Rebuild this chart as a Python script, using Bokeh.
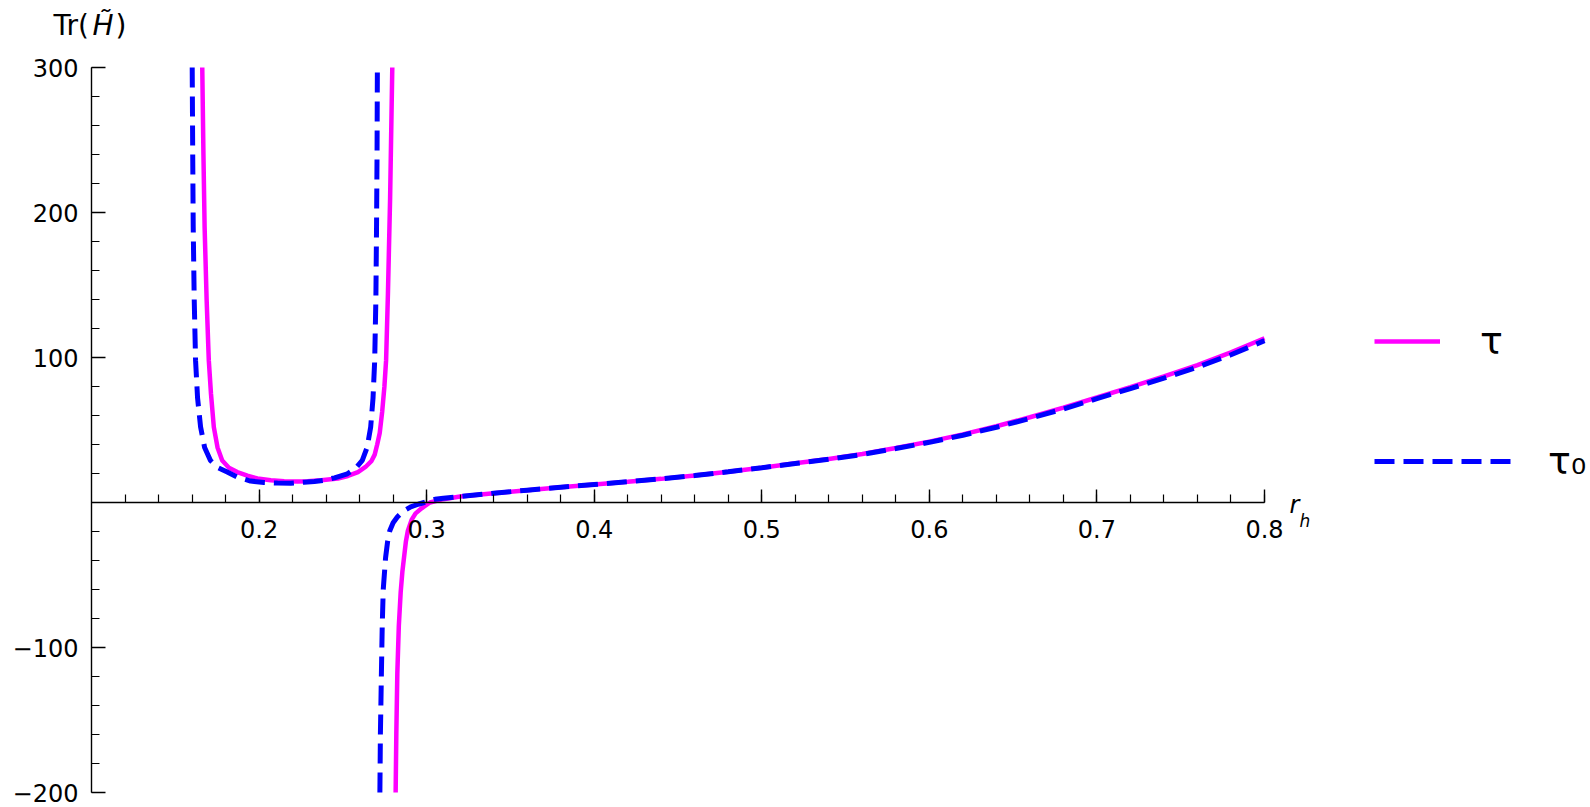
from bokeh.plotting import figure
from bokeh.models import LinearAxis, FixedTicker, Label, Legend, LegendItem, Range1d
from bokeh.embed import file_html
from bokeh.resources import INLINE

# ---------------- data ----------------
# tau (magenta, solid): U-shaped branch between the two poles
tau_u_r = [0.1661, 0.1668, 0.1675, 0.1687, 0.1700, 0.1713, 0.1730, 0.1752, 0.1780,
           0.1820, 0.1870, 0.1930, 0.1990, 0.2070, 0.2150, 0.2230, 0.2290, 0.2370, 0.2470,
           0.2530, 0.2590, 0.2635, 0.2670, 0.2690, 0.2705, 0.2720, 0.2735, 0.2748, 0.2758,
           0.2769, 0.2782, 0.2795]
tau_u_v = [300, 240, 190, 140, 98, 75, 52, 38, 29,
           24, 21, 18.5, 16.6, 15.3, 14.7, 14.5, 14.6, 15.3, 16.5,
           18.3, 21, 24.5, 28.5, 33, 40, 48, 63, 80, 98,
           144, 210, 300]
# tau: branch rising from -infinity
tau_low_r = [0.2815, 0.2819, 0.2825, 0.2834, 0.2845, 0.2855, 0.2865, 0.2876, 0.2888, 0.2910,
             0.2934, 0.2970, 0.3020, 0.3100]
tau_low_v = [-200, -160, -118, -85, -62, -48, -38, -27, -19.5, -12,
             -7.5, -4, 0, 2.3]

# tau_0 (blue, dashed): U-shaped branch
tau0_u_r = [0.1601, 0.1604, 0.1607, 0.1613, 0.1621, 0.1633, 0.1651, 0.1675, 0.1710,
            0.1755, 0.1810, 0.1870, 0.1949, 0.2030, 0.2110, 0.2190, 0.2268, 0.2330, 0.2387,
            0.2450, 0.2527, 0.2575, 0.2616, 0.2645, 0.2666, 0.2680, 0.2690, 0.2697, 0.2701,
            0.2704, 0.2706]
tau0_u_v = [300, 240, 190, 140, 98, 72, 52, 38, 29,
            24, 21, 17.5, 14.8, 13.8, 13.4, 13.3, 14.0, 14.5, 15.3,
            17.0, 19.8, 23.5, 29, 38, 52, 72, 98, 140, 190,
            240, 300]
# tau_0: branch rising from -infinity
tau0_low_r = [0.2721, 0.2724, 0.2730, 0.2735, 0.2741, 0.2755, 0.2767, 0.2780, 0.2800,
              0.2825, 0.2860, 0.2905, 0.2950, 0.2985, 0.3050, 0.3100]
tau0_low_v = [-200, -160, -118, -85, -60, -38, -27, -19.5, -14,
              -10, -6, -3, -1.2, 0, 2.2, 3.0]

# common large-r part of both curves
main_r = [0.32, 0.34, 0.36, 0.38, 0.40, 0.42, 0.44, 0.46, 0.48, 0.50, 0.52, 0.54, 0.56,
          0.58, 0.60, 0.62, 0.64, 0.66, 0.68, 0.70, 0.72, 0.74, 0.76, 0.78, 0.80]
tau_main_v = [4.1, 6.4, 8.5, 10.5, 12.4, 14.3, 16.3, 18.6, 21.2, 24.0, 27.0, 30.0, 33.4,
              37.6, 42.0, 47.0, 52.6, 58.8, 65.4, 72.4, 79.6, 87.0, 94.8, 103.5, 113.3]
tau0_main_v = [4.1, 6.4, 8.5, 10.5, 12.4, 14.3, 16.3, 18.6, 21.2, 24.0, 26.9, 29.8, 33.1,
               37.2, 41.5, 46.4, 51.9, 58.0, 64.5, 71.6, 78.6, 85.8, 93.4, 101.9, 111.6]

x_major = [0.2, 0.3, 0.4, 0.5, 0.6, 0.7, 0.8]
y_major = [-200, -100, 100, 200, 300]
y_labels = {-200: "\u2212200", -100: "\u2212100", 100: "100", 200: "200", 300: "300"}
series_names = ["\u03c4", "\u03c4\u2080"]
x_title = ("r", "h")
y_title = ("Tr(", "H\u0303", ")")

# ---------------- layout ----------------
W, H = 1588, 806
XA, XB = 0.1, 0.8          # axis extent (x)
YA, YB = -200, 300         # axis extent (y)
PX_A, PX_B = 91, 1264      # page pixel of x = XA, XB
PY_B, PY_A = 67, 792       # page pixel of y = YB, YA
sx = (XB - XA) / (PX_B - PX_A)
sy = (YB - YA) / (PY_A - PY_B)


def px2x(px):
    return XA + (px - PX_A) * sx


def py2y(py):
    return YB - (py - PY_B) * sy


p = figure(width=W, height=H, frame_width=W, frame_height=H,
           x_range=Range1d(px2x(0), px2x(W)), y_range=Range1d(py2y(H), py2y(0)),
           x_axis_location=None, y_axis_location=None,
           output_backend="svg", toolbar_location=None,
           min_border=0, min_border_left=0, min_border_right=0,
           min_border_top=0, min_border_bottom=0)
p.grid.visible = False
p.outline_line_color = None
p.background_fill_color = "white"
p.border_fill_color = "white"

FONT = "DejaVu Sans"

xminor = [round(0.1 + 0.02 * i, 2) for i in range(1, 36)]
yminor = [-200 + 20 * i for i in range(0, 26)]

xaxis = LinearAxis(fixed_location=0, bounds=(XA, XB),
                   ticker=FixedTicker(ticks=x_major, minor_ticks=xminor))
yaxis = LinearAxis(fixed_location=XA, bounds=(YA, YB),
                   ticker=FixedTicker(ticks=y_major, minor_ticks=yminor),
                   major_label_overrides=y_labels)
for ax in (xaxis, yaxis):
    ax.axis_line_color = "black"
    ax.axis_line_width = 1.4
    ax.major_tick_line_color = "black"
    ax.major_tick_line_width = 1.4
    ax.minor_tick_line_color = "black"
    ax.minor_tick_line_width = 1.2
    ax.major_tick_out = 0
    ax.minor_tick_out = 0
    ax.major_label_text_font = FONT
    ax.major_label_text_font_size = "24px"
    ax.major_label_text_color = "black"
xaxis.major_tick_in = 13
xaxis.minor_tick_in = 8
xaxis.major_label_standoff = 17
yaxis.major_tick_in = 14
yaxis.minor_tick_in = 8
yaxis.major_label_standoff = 13
p.add_layout(xaxis, "below")
p.add_layout(yaxis, "left")

MAG = "#ff00ff"
BLU = "#0000ff"

r1 = p.line(tau_u_r, tau_u_v, line_color=MAG, line_width=4.5)
p.line(tau_low_r + main_r, tau_low_v + tau_main_v, line_color=MAG, line_width=4.5)
r2 = p.line(tau0_u_r, tau0_u_v, line_color=BLU, line_width=5, line_dash="20 9")
p.line(tau0_low_r + main_r, tau0_low_v + tau0_main_v, line_color=BLU, line_width=5,
       line_dash="20 9")

# legends (two, so that each sample can have its own length)
IH = 48   # legend item height
common = dict(padding=0, margin=0, border_line_color=None, background_fill_alpha=0,
              glyph_height=IH, label_height=IH, label_text_font=FONT,
              label_text_font_size="38px", label_text_color="black")
leg1 = Legend(items=[LegendItem(label=series_names[0], renderers=[r1])],
              location=(1374, H - (341 + IH // 2)), glyph_width=66, label_standoff=40,
              **common)
leg2 = Legend(items=[LegendItem(label=series_names[1], renderers=[r2])],
              location=(1374, H - (461 + IH // 2)), glyph_width=137, label_standoff=37,
              **common)
p.add_layout(leg1)
p.add_layout(leg2)

# axis titles (baseline requests compensate for Bokeh's text box offset)
TKW = dict(text_font=FONT, text_baseline="alphabetic", text_align="left",
           text_color="black")
p.add_layout(Label(x=px2x(53), y=py2y(25), text=y_title[0], text_font_size="28px", **TKW))
p.add_layout(Label(x=px2x(92), y=py2y(25), text=y_title[1], text_font_size="28px",
                   text_font_style="italic", **TKW))
p.add_layout(Label(x=px2x(115), y=py2y(25), text=y_title[2], text_font_size="28px", **TKW))

p.add_layout(Label(x=px2x(1289), y=py2y(504), text=x_title[0], text_font_size="24px",
                   text_font_style="italic", **TKW))
p.add_layout(Label(x=px2x(1299), y=py2y(520), text=x_title[1], text_font_size="17px",
                   text_font_style="italic", **TKW))

open("out.html", "w").write(file_html(p, INLINE))
